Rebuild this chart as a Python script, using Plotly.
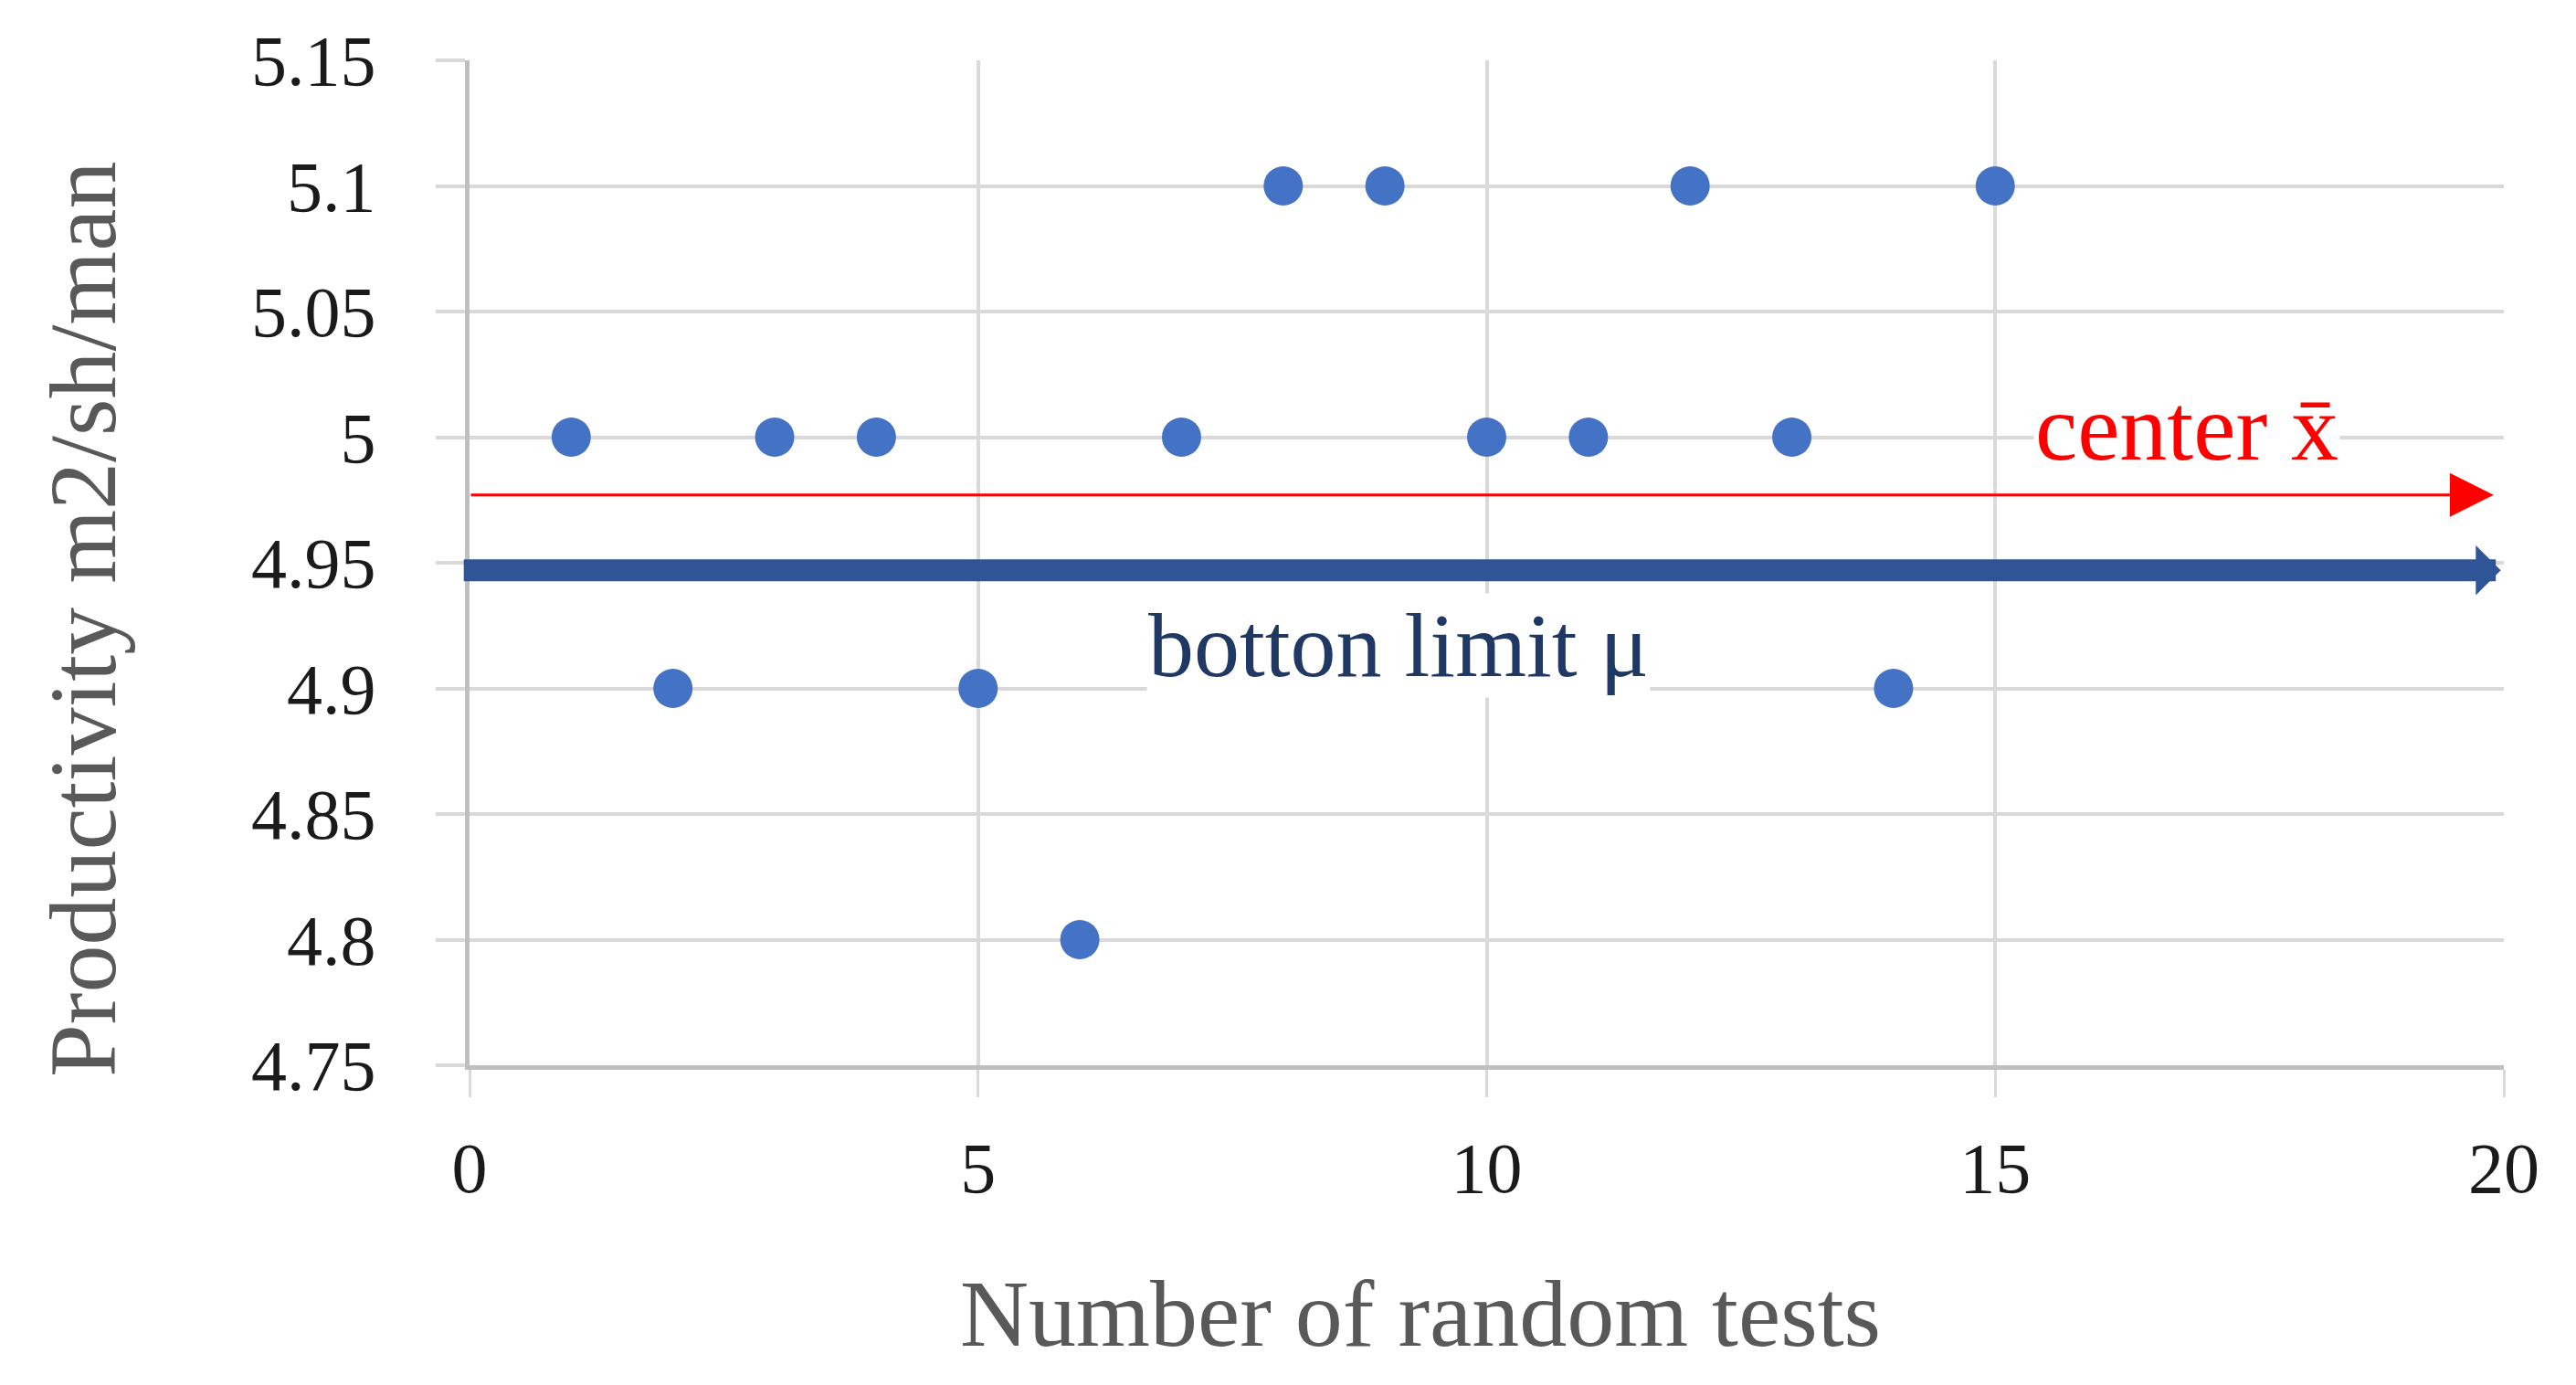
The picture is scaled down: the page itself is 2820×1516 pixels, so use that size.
import plotly.graph_objects as go

# ---- data ----
test_numbers = [1, 2, 3, 4, 5, 6, 7, 8, 9, 10, 11, 12, 13, 14, 15]
productivity = [5.0, 4.9, 5.0, 5.0, 4.9, 4.8, 5.0, 5.1, 5.1, 5.0, 5.0, 5.1, 5.0, 4.9, 5.1]

y_tick_values = [4.75, 4.8, 4.85, 4.9, 4.95, 5.0, 5.05, 5.1, 5.15]
y_tick_labels = ["4.75", "4.8", "4.85", "4.9", "4.95", "5", "5.05", "5.1", "5.15"]
x_tick_values = [0, 5, 10, 15, 20]
x_tick_labels = ["0", "5", "10", "15", "20"]

center_value = 4.977       # red arrow (center x̄)
bottom_limit_value = 4.947  # blue arrow (bottom limit μ)
x_start, x_end = 0, 20

FONT = "Liberation Serif"

fig = go.Figure()
fig.add_trace(go.Scatter(
    x=test_numbers, y=productivity, mode="markers",
    marker=dict(size=43, color="#4472C4"),
    showlegend=False, cliponaxis=False,
))

# center arrow (red)
fig.add_annotation(
    x=x_end - 0.1, y=center_value, ax=x_start, ay=center_value,
    xref="x", yref="y", axref="x", ayref="y",
    text="", showarrow=True, arrowhead=2, arrowwidth=3, arrowsize=3.2,
    arrowcolor="#FF0000",
)
# bottom limit arrow (blue)
fig.add_annotation(
    x=x_end - 0.03, y=bottom_limit_value, ax=x_start - 0.07, ay=bottom_limit_value,
    xref="x", yref="y", axref="x", ayref="y",
    text="", showarrow=True, arrowhead=1, arrowwidth=24, arrowsize=0.38,
    arrowcolor="#2F5597",
)

# labels
fig.add_annotation(
    x=16.88, y=5.004, xref="x", yref="y", text="center x̄", showarrow=False,
    font=dict(family=FONT, size=104, color="#FF0000"), bgcolor="white",
)
fig.add_annotation(
    x=9.13, y=4.917, xref="x", yref="y", text="botton limit μ", showarrow=False,
    font=dict(family=FONT, size=100, color="#1F3864"), bgcolor="white",
)

# axis titles (placed as in the original, slightly off-centre)
fig.add_annotation(
    x=0.4676, y=-0.247, xref="paper", yref="paper", text="Number of random tests",
    showarrow=False, xanchor="center", yanchor="middle",
    font=dict(family=FONT, size=104, color="#595959"),
)
fig.add_annotation(
    x=-0.1904, y=0.4436, xref="paper", yref="paper", text="Productivity m2/sh/man",
    showarrow=False, textangle=-90, xanchor="center", yanchor="middle",
    font=dict(family=FONT, size=104, color="#595959"),
)

fig.update_xaxes(
    range=[x_start, x_end], tickvals=x_tick_values, ticktext=x_tick_labels,
    showgrid=True, gridcolor="#D9D9D9", gridwidth=4, zeroline=False,
    showline=True, linecolor="#BFBFBF", linewidth=5,
    ticks="outside", ticklen=30, tickwidth=3, tickcolor="#D9D9D9",
    ticklabelstandoff=10,
    tickfont=dict(family=FONT, size=78, color="#1A1A1A"),
)
fig.update_yaxes(
    range=[4.75, 5.15], tickvals=y_tick_values, ticktext=y_tick_labels,
    showgrid=True, gridcolor="#D9D9D9", gridwidth=4, zeroline=False,
    showline=True, linecolor="#BFBFBF", linewidth=5,
    ticks="outside", ticklen=32, tickwidth=4, tickcolor="#D9D9D9",
    ticklabelstandoff=50,
    tickfont=dict(family=FONT, size=78, color="#1A1A1A"),
)

fig.update_layout(
    width=2820, height=1516,
    margin=dict(l=514, r=79, t=66, b=350, autoexpand=False),
    plot_bgcolor="white", paper_bgcolor="white",
)

fig.write_html("out.html", config={"displayModeBar": False},
               post_script="document.body.style.margin='0';")
